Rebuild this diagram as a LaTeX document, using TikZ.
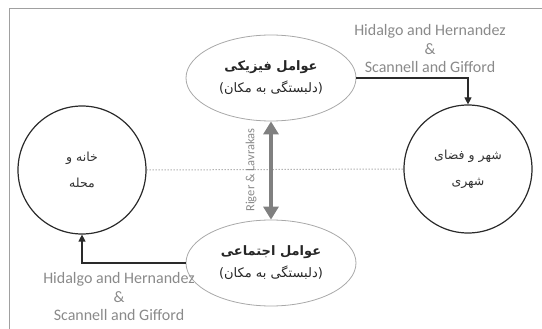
\documentclass[tikz,border=0pt]{standalone}
\usepackage{fontspec}
\setmainfont{Carlito}
\newfontfamily\fa[Script=Arabic]{DejaVu Sans}
\TeXXeTstate=1
\usetikzlibrary{shapes.geometric,arrows.meta}
\definecolor{framegray}{HTML}{A0A0A0}
\definecolor{labgray}{HTML}{8A8A8A}
\definecolor{arrgray}{HTML}{808080}
\definecolor{ellgray}{HTML}{A8A8A8}
\definecolor{circ}{HTML}{2A2A2A}
\tikzset{
  ellbox/.style={ellipse, draw=ellgray, line width=0.8pt, minimum width=170pt, minimum height=86pt, inner sep=0pt, align=center, font=\fa\fontsize{13}{22}\selectfont, text=black!85},
  circbox/.style={circle, draw=circ, line width=1.2pt, minimum size=128pt, inner sep=0pt, align=center, font=\fa\fontsize{12.5}{26}\selectfont, text=black!80},
  reflabel/.style={align=center, text=labgray, font=\fontsize{16}{18.5}\selectfont},
  conn/.style={draw=circ, line width=1.2pt, -{Triangle[width=7pt,length=7pt]}},
}
\begin{document}
\begin{tikzpicture}[x=1pt,y=-1pt]
\useasboundingbox (0,0) rectangle (542,329);
\draw[framegray, line width=1pt] (542,9) -- (9,9) -- (9,329);
\node[circbox] (home) at (82,170) {\beginR خانه و\endR\\\beginR محله\endR};
\node[circbox] (city) at (468,169) {\beginR شهر و فضای\endR\\\beginR شهری\endR};
\node[ellbox] (phys) at (271,78) {{\bfseries\beginR عوامل فیزیکی\endR}\\\beginR(دلبستگی به مکان)\endR};
\node[ellbox] (soc) at (271,263) {{\bfseries\beginR عوامل اجتماعی\endR}\\\beginR(دلبستگی به مکان)\endR};
\draw[labgray, dotted, line width=1pt] (home.east) -- (city.west);
\draw[conn] (phys.east) -| (city.north);
\draw[conn] (soc.west) -| (home.south);
\draw[draw=arrgray, line width=4pt, {Triangle[width=15pt,length=13pt]}-{Triangle[width=15pt,length=13pt]}, fill=arrgray] (phys.south) -- (soc.north);
\node[reflabel] (toplab) at (430,49) {Hidalgo and Hernandez\\\&\\Scannell and Gifford};
\node[reflabel] (botlab) at (119,297) {Hidalgo and Hernandez\\\&\\Scannell and Gifford};
\node[rotate=90, text=labgray, font=\fontsize{12.5}{14}\selectfont] (riger) at (251,170) {Riger \& Lavrakas};
\end{tikzpicture}
\end{document}
